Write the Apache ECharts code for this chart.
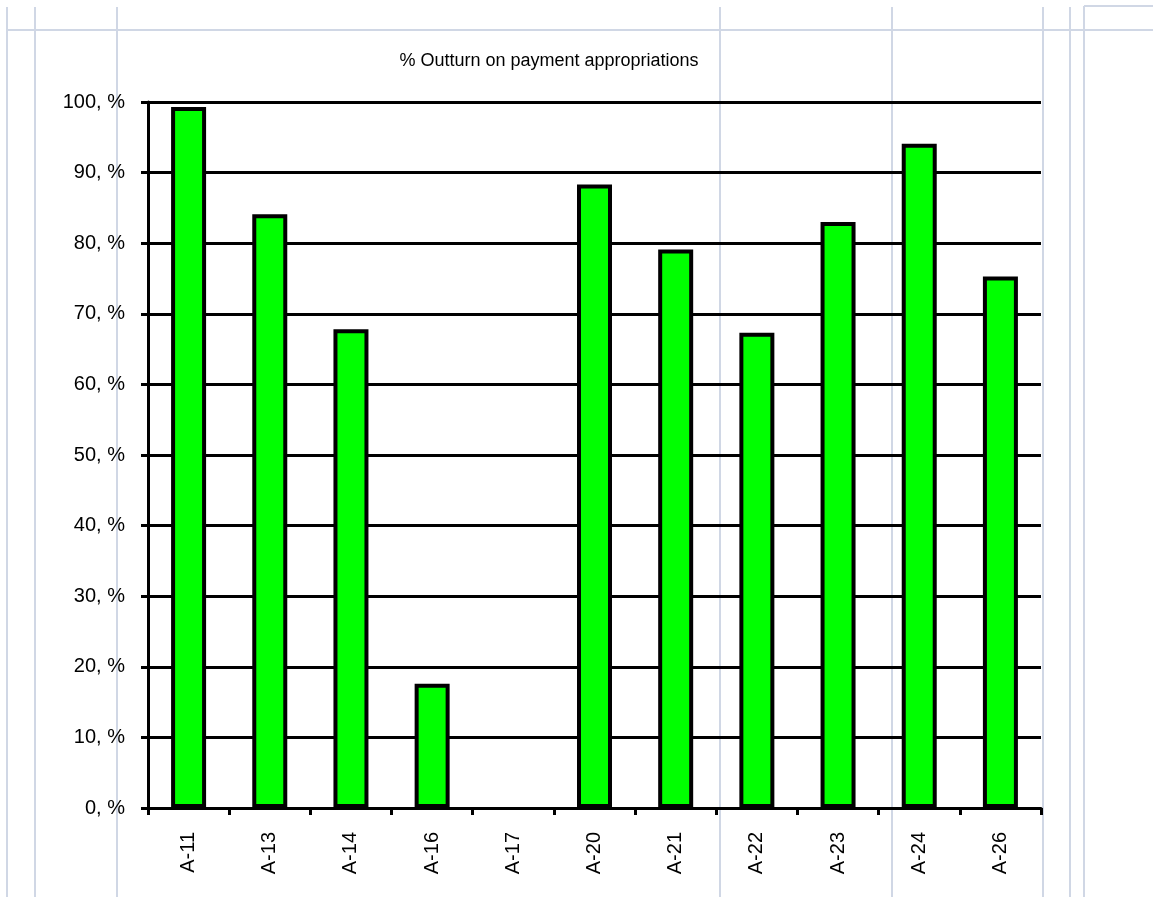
<!DOCTYPE html>
<html>
<head>
<meta charset="utf-8">
<script src="https://cdn.jsdelivr.net/npm/echarts@6/dist/echarts.min.js"></script>
<style>
html,body{margin:0;padding:0;background:#fff;}
#chart{width:1153px;height:897px;}
</style>
</head>
<body>
<div id="chart"></div>
<script>
const categories = ['A-11','A-13','A-14','A-16','A-17','A-20','A-21','A-22','A-23','A-24','A-26'];
const outturnPct = [99.3, 84.1, 67.8, 17.6, null, 88.3, 79.1, 67.3, 83.0, 94.1, 75.3];
const titleText = '% Outturn on payment appropriations';

const sheetColor = '#d0d7e5';
const vLines = [7, 35, 117, 720, 892, 1043, 1070, 1084];
const graphics = [];
vLines.forEach(function (x) {
  graphics.push({type:'line', z:-10, silent:true,
    shape:{x1:x, y1:(x===1084?6:7), x2:x, y2:897},
    style:{stroke:sheetColor, lineWidth:2}});
});
graphics.push({type:'line', z:-10, silent:true, shape:{x1:7,y1:30,x2:1153,y2:30}, style:{stroke:sheetColor,lineWidth:2}});
graphics.push({type:'line', z:-10, silent:true, shape:{x1:1084,y1:6,x2:1153,y2:6}, style:{stroke:sheetColor,lineWidth:2}});

const chart = echarts.init(document.getElementById('chart'), null, {renderer:'canvas'});
chart.setOption({
  backgroundColor: 'transparent',
  animation: false,
  graphic: graphics,
  title: {
    text: titleText,
    left: 544, top: 47, textAlign: 'center',
    textStyle: {fontFamily:'Liberation Sans, Arial, sans-serif', fontSize: 18, fontWeight:'normal', color:'#000'}
  },
  grid: {left:148, right:112, top:102, bottom:89, containLabel:false},
  xAxis: {
    type:'category',
    data: categories,
    boundaryGap: true,
    axisLine: {lineStyle:{color:'#000', width:3}},
    axisTick: {show:true, alignWithLabel:false, length:7, lineStyle:{color:'#000', width:3}},
    axisLabel: {rotate:90, margin:24, fontSize:20, color:'#000', fontFamily:'Liberation Sans, Arial, sans-serif', interval:0},
    splitLine: {show:false}
  },
  yAxis: {
    type:'value',
    min:0, max:100, interval:10,
    axisLine: {show:true, lineStyle:{color:'#000', width:3}},
    axisTick: {show:true, length:7, lineStyle:{color:'#000', width:3}},
    axisLabel: {margin:23, fontSize:20, color:'#000', fontFamily:'Liberation Sans, Arial, sans-serif',
      formatter: function (v) { return v + ', %'; }},
    splitLine: {show:true, lineStyle:{color:'#000', width:3}}
  },
  series: [{
    type:'bar',
    data: outturnPct,
    barWidth: 35,
    itemStyle: {color:'#00ff00', borderColor:'#000', borderWidth:4},
    z: 3
  }]
});
</script>
</body>
</html>
